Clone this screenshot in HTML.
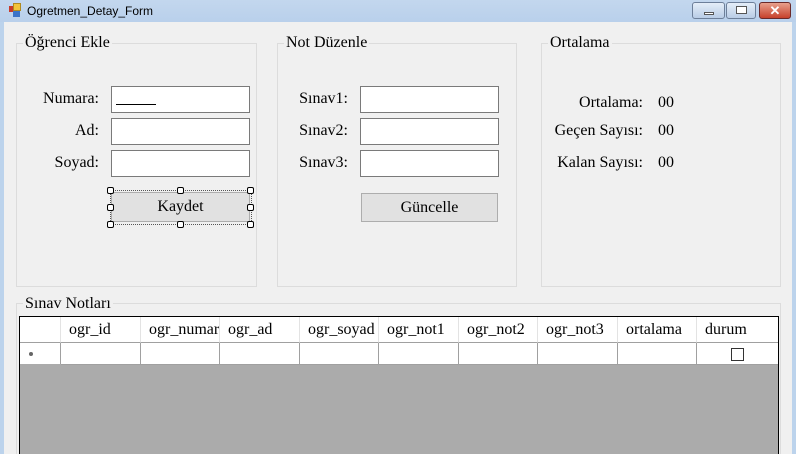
<!DOCTYPE html>
<html><head><meta charset="utf-8"><style>
*{margin:0;padding:0;box-sizing:border-box}
html{width:796px;height:454px;overflow:hidden}
body{width:796px;height:454px;overflow:hidden;background:#bcd3ec;font-family:"Liberation Serif",serif;font-size:16px;color:#000;position:relative}
.a{position:absolute}
.title{left:0;top:0;width:796px;height:22px;background:linear-gradient(#c3d7ee,#b9d0eb)}
.client{left:4px;top:22px;width:788px;height:432px;background:#f0f0f0}
.gb{position:absolute;border:1px solid #dcdcdc}
.gt{position:absolute;background:#f0f0f0;padding:0 2px;line-height:18px;white-space:nowrap}
.tb{position:absolute;background:#fff;border:1px solid #7a7a7a;width:139px;height:27px}
.lb{position:absolute;text-align:right;line-height:18px;white-space:nowrap}
.btn{position:absolute;background:#e1e1e1;border:1px solid #adadad;text-align:center;line-height:28px}
.h{position:absolute;width:7px;height:7px;border:1px solid #000;background:#fff;border-radius:2px}
.grid{left:19px;top:316px;width:760px;height:138px;border:1px solid #000;border-bottom:none;background:#ababab;overflow:hidden}
.hc{position:absolute;top:0;height:26px;background:#fff;border-right:1px solid #e3e3e3;border-bottom:1px solid #a0a0a0;line-height:26px;padding-left:8px;overflow:hidden;white-space:nowrap}
.dc{position:absolute;top:26px;height:22px;background:#fff;border-right:1px solid #a0a0a0;border-bottom:1px solid #a0a0a0}
.wb{position:absolute;top:2px;height:17px;border:1px solid #6d7f99;border-radius:3px;background:linear-gradient(#e4edf8,#b9cde6)}
</style></head><body>
<div class="a title"></div>
<div class="a" style="left:9px;top:6px;width:6px;height:6px;background:#c83a2a"></div>
<div class="a" style="left:13px;top:3px;width:8px;height:8px;background:#f2c43a;border:1px solid #b08a20"></div>
<div class="a" style="left:13px;top:11px;width:7px;height:6px;background:#3a73c8"></div>
<div class="a" style="left:27px;top:3px;font-family:'Liberation Sans',sans-serif;font-size:12px;line-height:16px">Ogretmen_Detay_Form</div>
<div class="wb" style="left:692px;width:33px"><div class="a" style="left:11px;top:9px;width:10px;height:3px;background:#fff;border:1px solid #555"></div></div>
<div class="wb" style="left:726px;width:30px"><div class="a" style="left:9px;top:3px;width:11px;height:8px;background:#fff;border:1px solid #555"></div></div>
<div class="wb" style="left:759px;width:32px;background:linear-gradient(#e8a08c,#c6412b);border-color:#6a2a2a;color:#fff;font:bold 13px 'Liberation Sans',sans-serif;text-align:center;line-height:15px">✕</div>
<div class="a client"></div>

<div class="gb" style="left:16px;top:43px;width:241px;height:244px"></div>
<div class="gt" style="left:23px;top:34px">Öğrenci Ekle</div>
<div class="gb" style="left:277px;top:43px;width:240px;height:244px"></div>
<div class="gt" style="left:284px;top:34px">Not Düzenle</div>
<div class="gb" style="left:541px;top:43px;width:240px;height:244px"></div>
<div class="gt" style="left:548px;top:34px">Ortalama</div>

<div class="lb" style="right:697px;top:90px">Numara:</div>
<div class="lb" style="right:697px;top:122px">Ad:</div>
<div class="lb" style="right:697px;top:154px">Soyad:</div>
<div class="tb" style="left:111px;top:86px"><div class="a" style="left:4px;top:17px;width:40px;height:1px;background:#000"></div></div>
<div class="tb" style="left:111px;top:118px"></div>
<div class="tb" style="left:111px;top:150px"></div>
<div class="a" style="left:110px;top:190px;width:142px;height:35px;border:1px dotted #555"></div>
<div class="btn" style="left:111px;top:192px;width:139px;height:30px">Kaydet</div>
<div class="h" style="left:107px;top:187px"></div><div class="h" style="left:177px;top:187px"></div><div class="h" style="left:247px;top:187px"></div>
<div class="h" style="left:107px;top:204px"></div><div class="h" style="left:247px;top:204px"></div>
<div class="h" style="left:107px;top:221px"></div><div class="h" style="left:177px;top:221px"></div><div class="h" style="left:247px;top:221px"></div>

<div class="lb" style="right:448px;top:90px">Sınav1:</div>
<div class="lb" style="right:448px;top:122px">Sınav2:</div>
<div class="lb" style="right:448px;top:154px">Sınav3:</div>
<div class="tb" style="left:360px;top:86px"></div>
<div class="tb" style="left:360px;top:118px"></div>
<div class="tb" style="left:360px;top:150px"></div>
<div class="btn" style="left:361px;top:193px;width:137px;height:29px">Güncelle</div>

<div class="lb" style="right:153px;top:94px">Ortalama:</div>
<div class="lb" style="right:153px;top:122px">Geçen Sayısı:</div>
<div class="lb" style="right:153px;top:154px">Kalan Sayısı:</div>
<div class="lb" style="left:658px;top:94px">00</div>
<div class="lb" style="left:658px;top:122px">00</div>
<div class="lb" style="left:658px;top:154px">00</div>

<div class="gb" style="left:16px;top:303px;width:765px;height:151px;border-bottom:none"></div>
<div class="gt" style="left:23px;top:295px">Sınav Notları</div>
<div class="a grid">
 <div class="hc" style="left:0;width:41px"></div>
 <div class="hc" style="left:41px;width:80px">ogr_id</div>
 <div class="hc" style="left:121px;width:79px">ogr_numara</div>
 <div class="hc" style="left:200px;width:80px">ogr_ad</div>
 <div class="hc" style="left:280px;width:79px">ogr_soyad</div>
 <div class="hc" style="left:359px;width:80px">ogr_not1</div>
 <div class="hc" style="left:439px;width:79px">ogr_not2</div>
 <div class="hc" style="left:518px;width:80px">ogr_not3</div>
 <div class="hc" style="left:598px;width:79px">ortalama</div>
 <div class="hc" style="left:677px;width:81px;border-right:none">durum</div>
 <div class="dc" style="left:0;width:41px;border-bottom:none;height:21px"><div class="a" style="left:9px;top:9px;width:4px;height:4px;background:#666;border-radius:2px"></div></div>
 <div class="dc" style="left:41px;width:80px"></div>
 <div class="dc" style="left:121px;width:79px"></div>
 <div class="dc" style="left:200px;width:80px"></div>
 <div class="dc" style="left:280px;width:79px"></div>
 <div class="dc" style="left:359px;width:80px"></div>
 <div class="dc" style="left:439px;width:79px"></div>
 <div class="dc" style="left:518px;width:80px"></div>
 <div class="dc" style="left:598px;width:79px"></div>
 <div class="dc" style="left:677px;width:81px;border-right:none"><div class="a" style="left:34px;top:5px;width:13px;height:13px;border:1px solid #333"></div></div>
</div>
</body></html>
